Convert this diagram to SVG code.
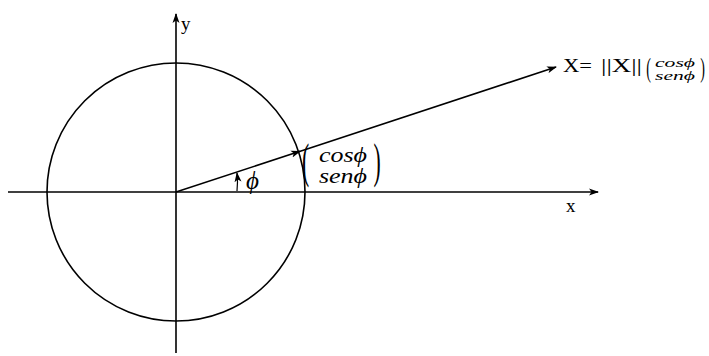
<svg xmlns="http://www.w3.org/2000/svg" width="709" height="356" viewBox="0 0 709 356">
<style>
.ln{stroke:#000;stroke-width:1.6;fill:none}
.t{font-family:"Liberation Serif","DejaVu Serif",serif;fill:#000}
.i{font-style:italic}
.p{text-anchor:middle;font-weight:normal}
</style>
<defs>
<marker id="ah" markerWidth="10" markerHeight="8" refX="9" refY="4" orient="auto" markerUnits="userSpaceOnUse">
<path d="M0,0.5 L10,4 L0,7.5 L2.5,4 Z" fill="#000"/>
</marker>
</defs>
<rect width="709" height="356" fill="#fff"/>
<g id="circle"><circle class="ln" cx="176" cy="192" r="129"/></g>
<g id="connectors">
<line class="ln" x1="8" y1="192" x2="598" y2="192" marker-end="url(#ah)"/>
<line class="ln" x1="176" y1="353" x2="176" y2="14" marker-end="url(#ah)"/>
<line class="ln" x1="176" y1="192" x2="300" y2="151.3" marker-end="url(#ah)"/>
<line class="ln" x1="298" y1="152" x2="556" y2="67" marker-end="url(#ah)"/>
<path class="ln" d="M237,191 Q238,182 237,173" marker-end="url(#ah)" style="stroke-width:1.2"/>
</g>
<g id="label-y"><text class="t" x="181" y="30" font-size="19">y</text></g>
<g id="label-x"><text class="t" x="566" y="212" font-size="19">x</text></g>
<g id="label-phi"><text class="t i" x="246" y="189" font-size="25">ϕ</text></g>
<g id="label-unit">
<text class="t p" transform="translate(305.5,177) scale(0.45,1)" font-size="48">(</text>
<text class="t i" x="319" y="162" font-size="20" textLength="48" lengthAdjust="spacingAndGlyphs">cosϕ</text>
<text class="t i" x="319" y="183" font-size="20" textLength="48" lengthAdjust="spacingAndGlyphs">senϕ</text>
<text class="t p" transform="translate(377,177) scale(0.45,1)" font-size="48">)</text>
</g>
<g id="label-X">
<text class="t" x="563" y="72" font-size="18" textLength="29" lengthAdjust="spacingAndGlyphs">X=</text>
<text class="t" x="601" y="72" font-size="18" textLength="41" lengthAdjust="spacingAndGlyphs">||X||</text>
<text class="t p" transform="translate(648.5,77) scale(0.5,1)" font-size="28">(</text>
<text class="t i" x="655" y="67" font-size="12" textLength="40" lengthAdjust="spacingAndGlyphs">cosϕ</text>
<text class="t i" x="655" y="80" font-size="12" textLength="40" lengthAdjust="spacingAndGlyphs">senϕ</text>
<text class="t p" transform="translate(702.5,77) scale(0.5,1)" font-size="28">)</text>
</g>
</svg>
